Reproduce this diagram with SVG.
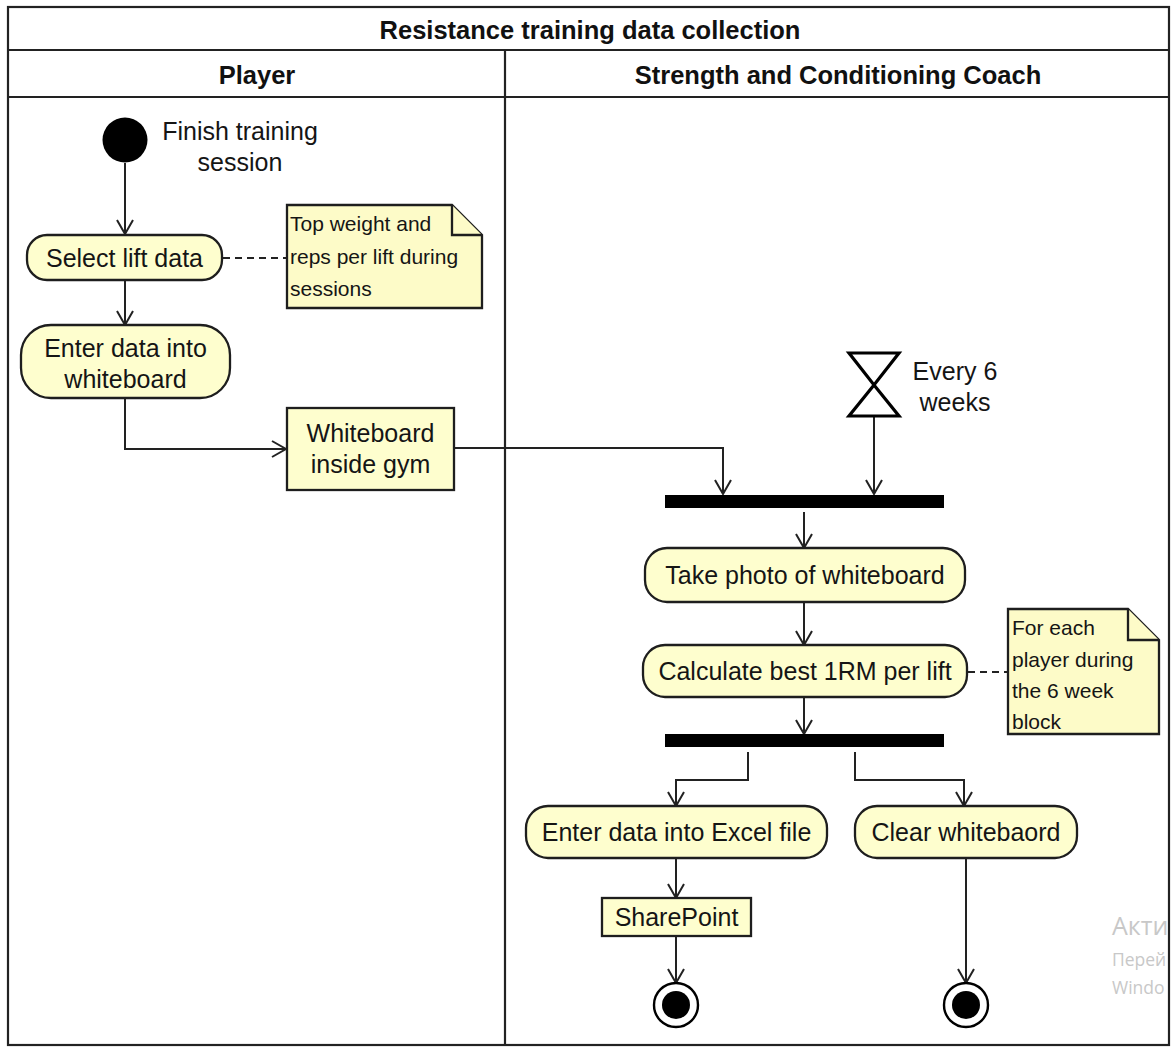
<svg xmlns="http://www.w3.org/2000/svg" width="1173" height="1048" viewBox="0 0 1173 1048">
  <defs>
    <style>
      .frame { fill: none; stroke: #222; stroke-width: 2.2; }
      .hdr { font-family: "Liberation Sans", Arial, sans-serif; font-weight: bold; font-size: 25.5px; fill: #111; text-anchor: middle; }
      .act { fill: #FEFECE; stroke: #1e1e1e; stroke-width: 2.3; }
      .obj { fill: #FEFECE; stroke: #1e1e1e; stroke-width: 2.3; }
      .note { fill: #FDFBC8; stroke: #1e1e1e; stroke-width: 2.3; }
      .lbl { font-family: "Liberation Sans", Arial, sans-serif; font-size: 25px; fill: #151515; text-anchor: middle; }
      .ntxt { font-family: "Liberation Sans", Arial, sans-serif; font-size: 21px; fill: #151515; }
      .bar { fill: #000; }
      .flow { fill: none; stroke: #222; stroke-width: 2; marker-end: url(#arrow); }
      .dash { fill: none; stroke: #222; stroke-width: 2; stroke-dasharray: 7 5; }
      .wm { font-family: "Open Sans", "Noto Sans", sans-serif; fill: #c8c8c8; }
    </style>
    <marker id="arrow" viewBox="-16 -10 18 20" markerWidth="18" markerHeight="20" refX="0" refY="0" orient="auto" markerUnits="userSpaceOnUse">
      <path d="M-14,-8 L0,0 L-14,8" fill="none" stroke="#222" stroke-width="2"/>
    </marker>
    <clipPath id="wmclip">
      <rect x="1000" y="880" width="167" height="160"/>
    </clipPath>
  </defs>

  <rect x="0" y="0" width="1173" height="1048" fill="#fff"/>

  <!-- swimlane frame -->
  <g id="swimlanes">
    <rect class="frame" x="8" y="7" width="1161" height="1038"/>
    <line class="frame" x1="8" y1="50" x2="1169" y2="50"/>
    <line class="frame" x1="8" y1="97" x2="1169" y2="97"/>
    <line class="frame" x1="505" y1="50" x2="505" y2="1045"/>
    <text class="hdr" x="590" y="39">Resistance training data collection</text>
    <text class="hdr" x="257" y="84">Player</text>
    <text class="hdr" x="838" y="84">Strength and Conditioning Coach</text>
  </g>

  <!-- connectors -->
  <g id="connectors">
    <path class="flow" d="M125,163 V234"/>
    <path class="flow" d="M125,281 V325"/>
    <path class="flow" d="M125,398 V449 H286"/>
    <path class="flow" d="M454,448 H723 V494"/>
    <path class="flow" d="M874,417 V494"/>
    <path class="flow" d="M804,512 V548"/>
    <path class="flow" d="M804,602 V645"/>
    <path class="flow" d="M804,697 V734"/>
    <path class="flow" d="M748,752 V780 H676 V806"/>
    <path class="flow" d="M855,752 V780 H964 V806"/>
    <path class="flow" d="M676,858 V898"/>
    <path class="flow" d="M676,936 V983"/>
    <path class="flow" d="M966,858 V983"/>
    <path class="dash" d="M223,258 H287"/>
    <path class="dash" d="M968,672 H1008"/>
  </g>

  <!-- start -->
  <g id="start">
    <circle cx="125" cy="140" r="22.5" fill="#000"/>
    <text class="lbl" x="240" y="140">Finish training</text>
    <text class="lbl" x="240" y="171">session</text>
  </g>

  <g id="select-lift-data">
    <rect class="act" x="27" y="235" width="195" height="45" rx="20"/>
    <text class="lbl" x="124.5" y="267">Select lift data</text>
  </g>

  <g id="note-lift">
    <path class="note" d="M287,205 H452 L482,235 V308 H287 Z"/>
    <path class="note" d="M452,205 V235 H482"/>
    <text class="ntxt" x="290" y="231">Top weight and</text>
    <text class="ntxt" x="290" y="264">reps per lift during</text>
    <text class="ntxt" x="290" y="296">sessions</text>
  </g>

  <g id="enter-whiteboard">
    <rect class="act" x="21" y="325" width="209" height="73" rx="30"/>
    <text class="lbl" x="125.5" y="357">Enter data into</text>
    <text class="lbl" x="125.5" y="388">whiteboard</text>
  </g>

  <g id="whiteboard-gym">
    <rect class="obj" x="287" y="408" width="167" height="82"/>
    <text class="lbl" x="370.5" y="442">Whiteboard</text>
    <text class="lbl" x="370.5" y="473">inside gym</text>
  </g>

  <g id="timer">
    <path d="M849,353 H899 L874,385 Z M874,385 L849,416 H899 Z" fill="#fff" stroke="#000" stroke-width="3.2" stroke-linejoin="miter"/>
    <text class="lbl" x="955" y="380">Every 6</text>
    <text class="lbl" x="955" y="411">weeks</text>
  </g>

  <g id="join-bar">
    <rect class="bar" x="665" y="495" width="279" height="13"/>
  </g>

  <g id="take-photo">
    <rect class="act" x="645" y="548" width="320" height="54" rx="22"/>
    <text class="lbl" x="805" y="584">Take photo of whiteboard</text>
  </g>

  <g id="calc-1rm">
    <rect class="act" x="643" y="645" width="324" height="52" rx="22"/>
    <text class="lbl" x="805" y="680">Calculate best 1RM per lift</text>
  </g>

  <g id="note-calc">
    <path class="note" d="M1008,609 H1128 L1159,640 V734 H1008 Z"/>
    <path class="note" d="M1128,609 V640 H1159"/>
    <text class="ntxt" x="1012" y="635">For each</text>
    <text class="ntxt" x="1012" y="667">player during</text>
    <text class="ntxt" x="1012" y="698">the 6 week</text>
    <text class="ntxt" x="1012" y="729">block</text>
  </g>

  <g id="fork-bar">
    <rect class="bar" x="665" y="734" width="279" height="13"/>
  </g>

  <g id="enter-excel">
    <rect class="act" x="526" y="806" width="301" height="52" rx="22"/>
    <text class="lbl" x="676.5" y="841">Enter data into Excel file</text>
  </g>

  <g id="clear-whiteboard">
    <rect class="act" x="855" y="806" width="222" height="52" rx="22"/>
    <text class="lbl" x="966" y="841">Clear whitebaord</text>
  </g>

  <g id="sharepoint">
    <rect class="obj" x="602" y="898" width="149" height="38"/>
    <text class="lbl" x="676.5" y="926">SharePoint</text>
  </g>

  <g id="end-excel">
    <circle cx="676" cy="1005" r="22" fill="#fff" stroke="#000" stroke-width="2.4"/>
    <circle cx="676" cy="1005" r="14" fill="#000"/>
  </g>

  <g id="end-clear">
    <circle cx="966" cy="1005" r="22" fill="#fff" stroke="#000" stroke-width="2.4"/>
    <circle cx="966" cy="1005" r="14" fill="#000"/>
  </g>

  <!-- system overlay text at the lower right edge -->
  <g id="overlay" clip-path="url(#wmclip)">
    <text class="wm" x="1112" y="935" font-size="25">Акти</text>
    <text class="wm" x="1112" y="966" font-size="17.5">Перей</text>
    <text class="wm" x="1112" y="994" font-size="17.5">Windo</text>
  </g>
</svg>
